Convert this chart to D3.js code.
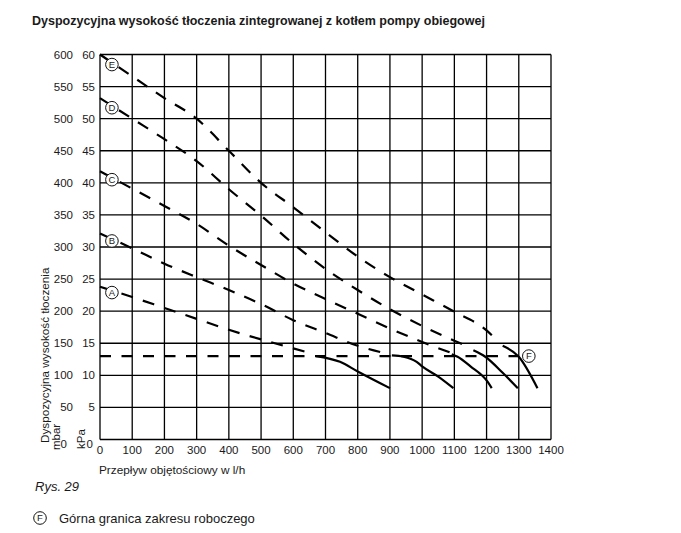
<!DOCTYPE html>
<html>
<head>
<meta charset="utf-8">
<script src="https://cdn.jsdelivr.net/npm/d3@7"></script>
<style>
    body { margin: 0; background: #fff; }
    svg text { font-family: "Liberation Sans", Arial, sans-serif; fill: #1a1a1a; }
</style>
</head>
<body>
<div id="chart-area"></div>
<script>

// flow values on the x axis (l/h)
var flowTicks = d3.range(0, 1401, 100);
// head on the y axis, kPa and mbar
var kpaTicks = d3.range(0, 61, 5);
var mbarTicks = d3.range(0, 601, 50);

var curveNames = ["A", "B", "C", "D", "E"];

// dashed part of every pump curve [l/h, kPa]
var curveA = [[0, 23.8], [100, 22.2], [200, 20.5], [300, 18.8], [400, 17.1], [500, 15.6], [600, 14.2], [665, 13.3]];
var curveB = [[0, 32.1], [100, 29.8], [200, 27.4], [300, 25.3], [400, 23.3], [500, 21.1], [600, 18.6], [700, 16.6], [800, 14.6], [880, 13.5]];
var curveC = [[0, 41.8], [100, 39.1], [200, 36.4], [300, 33.6], [400, 30.2], [500, 27.2], [600, 24.3], [700, 21.9], [800, 19.6], [900, 17.3], [1000, 15.2], [1090, 13.5]];
var curveD = [[0, 53.2], [100, 50.0], [200, 46.8], [300, 43.4], [400, 39.0], [500, 34.9], [600, 30.5], [700, 26.6], [800, 23.3], [900, 20.3], [1000, 17.7], [1100, 15.4], [1150, 14.3]];
var curveE = [[0, 60.0], [100, 56.6], [200, 53.2], [300, 50.0], [400, 45.0], [500, 40.0], [600, 36.2], [700, 32.3], [800, 28.5], [900, 25.3], [1000, 22.6], [1100, 19.9], [1200, 17.0], [1227, 15.7]];

// solid part below the upper limit
var solidA = [[671, 13.0], [745, 12.1], [800, 10.6], [900, 8.0]];
var solidB = [[906, 13.1], [942, 12.9], [983, 12.1], [1000, 11.4], [1050, 9.8], [1097, 8.0]];
var solidC = [[1092, 13.3], [1110, 12.9], [1150, 11.4], [1200, 9.2], [1216, 8.0]];
var solidD = [[1159, 13.9], [1196, 12.9], [1250, 10.4], [1297, 8.0]];
var solidE = [[1250, 14.6], [1300, 12.9], [1358, 8.0]];

// F = upper limit of working range
var limitF = [[0, 13], [1297, 13]];

var labelFlow = 37;

PumpChart = function(_parentElement) {
    this.parentElement = _parentElement;
    this.initVis();
}

PumpChart.prototype.initVis = function() {
    var vis = this;

    vis.width = 681;
    vis.height = 533;

    vis.svg = d3.select("#" + vis.parentElement).append("svg")
        .attr("width", vis.width)
        .attr("height", vis.height);

    vis.x = d3.scaleLinear().domain([0, 1400]).range([100, 551]);
    vis.y = d3.scaleLinear().domain([0, 60]).range([439.5, 54.5]);

    vis.svg.append("text")
        .attr("x", 32)
        .attr("y", 25)
        .attr("font-size", 12.5)
        .attr("font-weight", "bold")
        .text("Dyspozycyjna wysokość tłoczenia zintegrowanej z kotłem pompy obiegowej");

    vis.drawGrid();
    vis.drawCurves();
    vis.drawLabels();
}

// little circled letter used on the curves and in the legend
PumpChart.prototype.addMark = function(g, letter) {
    g.append("circle")
        .attr("r", 6.3)
        .attr("fill", "#fff")
        .attr("stroke", "#111")
        .attr("stroke-width", 1);
    g.append("text")
        .attr("text-anchor", "middle")
        .attr("y", 3.4)
        .attr("font-size", 9.5)
        .text(letter);
}

PumpChart.prototype.drawGrid = function() {
    var vis = this;

    var grid = vis.svg.append("g").attr("class", "grid");

    grid.selectAll(".vline")
        .data(flowTicks)
        .enter().append("line")
        .attr("class", "vline")
        .attr("x1", function(d) { return vis.x(d); })
        .attr("x2", function(d) { return vis.x(d); })
        .attr("y1", vis.y(0))
        .attr("y2", vis.y(60))
        .attr("stroke", "#000")
        .attr("stroke-width", 1.3);

    grid.selectAll(".hline")
        .data(kpaTicks)
        .enter().append("line")
        .attr("class", "hline")
        .attr("x1", vis.x(0))
        .attr("x2", vis.x(1400))
        .attr("y1", function(d) { return vis.y(d); })
        .attr("y2", function(d) { return vis.y(d); })
        .attr("stroke", "#000")
        .attr("stroke-width", 1.3);

    // x tick labels
    vis.svg.selectAll(".xlab")
        .data(flowTicks)
        .enter().append("text")
        .attr("class", "xlab")
        .attr("x", function(d) { return vis.x(d); })
        .attr("y", 454)
        .attr("text-anchor", "middle")
        .attr("font-size", 11.5)
        .text(function(d) { return d; });

    // kPa labels (the zero sits next to the unit)
    vis.svg.selectAll(".kpalab")
        .data(kpaTicks)
        .enter().append("text")
        .attr("class", "kpalab")
        .attr("x", function(d) { return d === 0 ? 93 : 95; })
        .attr("y", function(d) { return d === 0 ? 447.5 : vis.y(d) + 4; })
        .attr("text-anchor", "end")
        .attr("font-size", 11.5)
        .text(function(d) { return d; });

    // mbar labels
    vis.svg.selectAll(".mbarlab")
        .data(mbarTicks)
        .enter().append("text")
        .attr("class", "mbarlab")
        .attr("x", function(d) { return d === 0 ? 67 : 73; })
        .attr("y", function(d) { return d === 0 ? 447.5 : vis.y(d / 10) + 4; })
        .attr("text-anchor", "end")
        .attr("font-size", 11.5)
        .text(function(d) { return d; });
}

PumpChart.prototype.drawCurves = function() {
    var vis = this;

    var line = d3.line()
        .x(function(d) { return vis.x(d[0]); })
        .y(function(d) { return vis.y(d[1]); })
        .curve(d3.curveMonotoneX);

    var dashed = [curveA, curveB, curveC, curveD, curveE];
    var solid = [solidA, solidB, solidC, solidD, solidE];

    vis.svg.append("path")
        .attr("d", line(limitF))
        .attr("fill", "none")
        .attr("stroke", "#000")
        .attr("stroke-width", 2.2)
        .attr("stroke-dasharray", "11,10.5");

    vis.svg.selectAll(".dashed")
        .data(dashed)
        .enter().append("path")
        .attr("class", "dashed")
        .attr("d", line)
        .attr("fill", "none")
        .attr("stroke", "#000")
        .attr("stroke-width", 2.2)
        .attr("stroke-dasharray", "12,10.5");

    vis.svg.selectAll(".solid")
        .data(solid)
        .enter().append("path")
        .attr("class", "solid")
        .attr("d", line)
        .attr("fill", "none")
        .attr("stroke", "#000")
        .attr("stroke-width", 2.2);

    // circled letters on the curves
    vis.svg.selectAll(".mark")
        .data(dashed)
        .enter().append("g")
        .attr("class", "mark")
        .attr("transform", function(d) {
            var yv = d3.scaleLinear().domain([d[0][0], d[1][0]]).range([d[0][1], d[1][1]])(labelFlow);
            return "translate(" + vis.x(labelFlow) + "," + (vis.y(yv) + 2) + ")";
        })
        .each(function(d, i) { vis.addMark(d3.select(this), curveNames[i]); });

    var fMark = vis.svg.append("g")
        .attr("transform", "translate(" + (vis.x(limitF[1][0]) + 11) + "," + vis.y(13) + ")");
    vis.addMark(fMark, "F");
}

PumpChart.prototype.drawLabels = function() {
    var vis = this;

    vis.svg.append("text")
        .attr("transform", "translate(48.5,443) rotate(-90)")
        .attr("font-size", 11.7)
        .text("Dyspozycyjna wysokość tłoczenia");

    vis.svg.append("text")
        .attr("transform", "translate(59.5,450) rotate(-90)")
        .attr("font-size", 11.5)
        .text("mbar");

    vis.svg.append("text")
        .attr("transform", "translate(85,449) rotate(-90)")
        .attr("font-size", 11.5)
        .text("kPa");

    vis.svg.append("text")
        .attr("x", 99)
        .attr("y", 474)
        .attr("font-size", 11.8)
        .text("Przepływ objętościowy w l/h");

    vis.svg.append("text")
        .attr("x", 35)
        .attr("y", 491)
        .attr("font-size", 13)
        .attr("font-style", "italic")
        .text("Rys. 29");

    var legend = vis.svg.append("g")
        .attr("transform", "translate(40,518)");
    vis.addMark(legend, "F");
    legend.append("text")
        .attr("x", 19)
        .attr("y", 4.5)
        .attr("font-size", 13)
        .text("Górna granica zakresu roboczego");
}

var pumpChart = new PumpChart("chart-area");

</script>
</body>
</html>
